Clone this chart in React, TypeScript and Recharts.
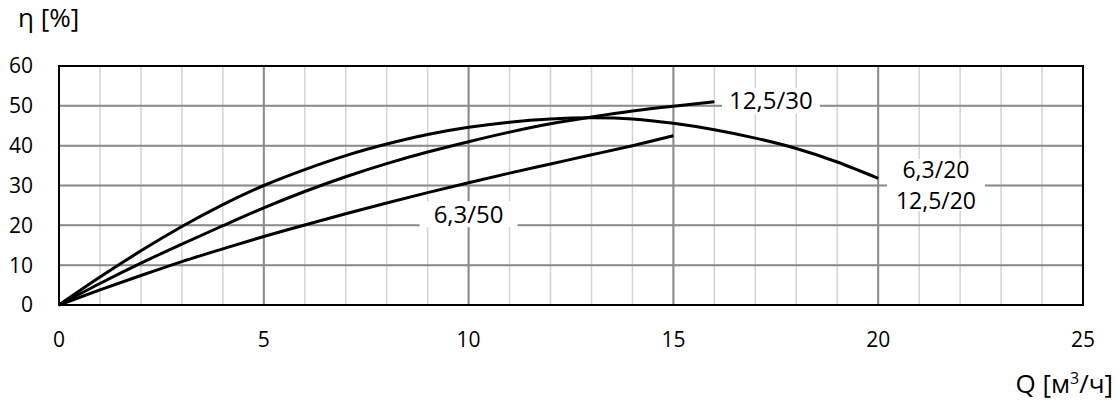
import { LineChart, Line, XAxis, YAxis, CartesianGrid, ReferenceArea, ReferenceDot } from "recharts"

// flow Q, m3/h
const q20 = [0, 1, 2, 3, 4, 5, 6, 7, 8, 9, 10, 11, 12, 13, 14, 15, 16, 17, 18, 19, 20]
const q30 = [0, 1, 2, 3, 4, 5, 6, 7, 8, 9, 10, 11, 12, 13, 14, 15, 16]
const q50 = [0, 1, 2, 3, 4, 5, 6, 7, 8, 9, 10, 11, 12, 13, 14, 15]

// efficiency, %
const eta20 = [0, 7.0, 13.6, 19.7, 25.2, 30.0, 34.0, 37.5, 40.4, 42.8, 44.6, 45.9, 46.7, 47.0, 46.7, 45.6, 44.0, 41.9, 39.3, 35.9, 31.8]
const eta30 = [0, 5.4, 10.5, 15.3, 19.9, 24.4, 28.5, 32.2, 35.5, 38.4, 41.0, 43.4, 45.5, 47.2, 48.7, 49.9, 51.0]
const eta50 = [0, 3.8, 7.4, 10.9, 14.1, 17.2, 20.1, 22.9, 25.6, 28.2, 30.7, 33.1, 35.4, 37.7, 40.0, 42.5]

const xMajor = [0, 5, 10, 15, 20, 25]
const xMinor = Array.from({ length: 26 }, (_, i) => i)
const yMajor = [0, 10, 20, 30, 40, 50, 60]
const yMinor = [0, 5, 10, 15, 20, 25, 30, 35, 40, 45, 50, 55, 60]

const curveLabels = [
  { text: ["12,5/30"], q: 17.38, eta: 51.2 },
  { text: ["6,3/50"], q: 10.0, eta: 22.8 },
  { text: ["6,3/20", "12,5/20"], q: 21.41, eta: 30.1 },
]

const pts = (qs: number[], etas: number[]) => qs.map((x, i) => ({ x, y: etas[i] }))

const FONT = "'Open Sans', sans-serif"

function BoxLabel({ cx, cy, text }: { cx?: number; cy?: number; text: string[] }) {
  if (cx == null || cy == null) return null
  const lh = text.length > 1 ? 31 : 26
  const w = 98
  const h = text.length > 1 ? 52 : 26
  const top = cy - (lh * text.length) / 2
  return (
    <g>
      <rect x={cx - w / 2} y={cy - h / 2} width={w} height={h} fill="#fff" />
      {text.map((t, i) => (
        <text
          key={t}
          x={cx}
          y={top + lh * i + lh / 2}
          dy="0.35em"
          textAnchor="middle"
          fontSize={text.length > 1 ? 23 : 24}
          fontFamily={FONT}
          fill="#000"
        >
          {t}
        </text>
      ))}
    </g>
  )
}

export default function App() {
  return (
    <div style={{ position: "absolute", left: 0, top: 0, width: 1119, height: 406, background: "#fff", fontFamily: FONT }}>
      <LineChart width={1119} height={406} margin={{ top: 66, right: 36, left: 0, bottom: 41 }}>
        <XAxis
          type="number"
          dataKey="x"
          domain={[0, 25]}
          ticks={xMajor}
          tickLine={false}
          axisLine={false}
          tickSize={0}
          tickMargin={27}
          height={60}
          tick={{ fontSize: 21, fill: "#000", fontFamily: FONT }}
        />
        <YAxis
          type="number"
          domain={[0, 60]}
          ticks={yMajor}
          tickLine={false}
          axisLine={false}
          tickSize={0}
          tickMargin={26}
          width={59}
          tick={{ fontSize: 21, fill: "#000", fontFamily: FONT }}
        />
        <CartesianGrid verticalValues={xMinor} horizontalValues={yMinor} stroke="#d4d4d4" strokeWidth={1.5} />
        <CartesianGrid verticalValues={xMajor} horizontalValues={yMajor} stroke="#8a8a8a" strokeWidth={2} />
        <ReferenceArea x1={0} x2={25} y1={0} y2={60} fill="none" stroke="#000" strokeWidth={2} fillOpacity={0} />
        <Line data={pts(q20, eta20)} dataKey="y" type="natural" stroke="#000" strokeWidth={3} dot={false} isAnimationActive={false} />
        <Line data={pts(q30, eta30)} dataKey="y" type="natural" stroke="#000" strokeWidth={3} dot={false} isAnimationActive={false} />
        <Line data={pts(q50, eta50)} dataKey="y" type="natural" stroke="#000" strokeWidth={3} dot={false} isAnimationActive={false} />
        {curveLabels.map((l) => (
          <ReferenceDot
            key={l.text.join()}
            x={l.q}
            y={l.eta}
            r={0}
            ifOverflow="visible"
            shape={(p: any) => <BoxLabel cx={p.cx} cy={p.cy} text={l.text} />}
          />
        ))}
      </LineChart>
      <div style={{ position: "absolute", left: 18, top: 1, fontSize: 26, color: "#000", lineHeight: "32px" }}>η [%]</div>
      <div style={{ position: "absolute", right: 6, top: 367, fontSize: 26, color: "#000", lineHeight: "32px" }}>
        Q [м<sup style={{ fontSize: 16, verticalAlign: "top", lineHeight: "22px" }}>3</sup>/ч]
      </div>
    </div>
  )
}
